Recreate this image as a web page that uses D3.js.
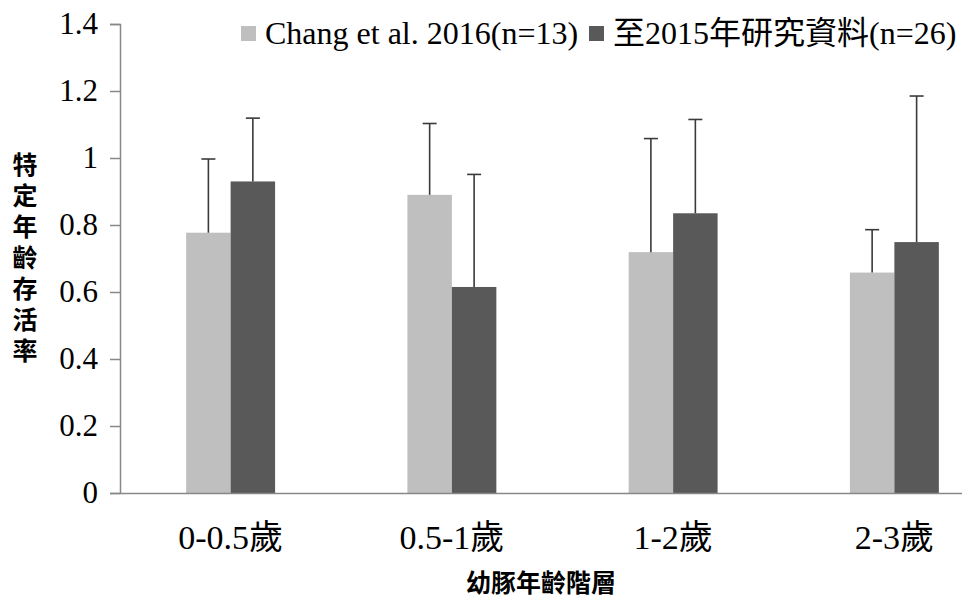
<!DOCTYPE html>
<html>
<head>
<meta charset="utf-8">
<script src="https://cdn.jsdelivr.net/npm/d3@7"></script>
<style>
  body { margin: 0; background: #fff; }
</style>
</head>
<body>
<svg id="chart" width="962" height="601"></svg>
<script>
const ageGroups = ['0-0.5歲', '0.5-1歲', '1-2歲', '2-3歲'];
const seriesNames = ['Chang et al. 2016(n=13)', '至2015年研究資料(n=26)'];
const changMean = [0.777, 0.890, 0.719, 0.658];
const changSd = [0.220, 0.213, 0.339, 0.128];
const studyMean = [0.930, 0.615, 0.835, 0.749];
const studySd = [0.189, 0.336, 0.280, 0.436];
const yTicks = [0, 0.2, 0.4, 0.6, 0.8, 1, 1.2, 1.4];

const colors = ['#bfbfbf', '#595959'];
const serif = '"Liberation Serif", "Times New Roman", "Noto Sans CJK TC", serif';
const cjk = '"Noto Sans CJK TC", "Noto Sans CJK SC", sans-serif';

const svg = d3.select('#chart');
const plotLeft = 120, plotRight = 1005, plotTop = 24, plotBottom = 493;

const x = d3.scaleBand().domain(ageGroups).range([plotLeft, plotRight])
    .paddingInner(0.598).paddingOuter(0.299);
const xs = d3.scaleBand().domain([0, 1]).range([0, x.bandwidth()]);
const y = d3.scaleLinear().domain([0, 1.4]).range([plotBottom, plotTop]);

// y axis
const yAxis = svg.append('g')
    .attr('transform', `translate(${plotLeft},0)`)
    .call(d3.axisLeft(y).tickValues(yTicks).tickSize(10).tickPadding(12)
        .tickFormat(d => String(+d.toFixed(1))))
    .attr('font-family', serif).attr('font-size', 31);
yAxis.select('.domain').attr('stroke', '#888').attr('stroke-width', 1.5);
yAxis.selectAll('.tick line').attr('stroke', '#888').attr('stroke-width', 1.5);
yAxis.selectAll('.tick text').attr('fill', '#000');

const data = [
  { mean: changMean, sd: changSd },
  { mean: studyMean, sd: studySd }
];

data.forEach((s, si) => {
  const g = svg.append('g');
  g.selectAll('rect')
    .data(ageGroups)
    .enter()
    .append('rect')
    .attr('x', (d) => x(d) + xs(si))
    .attr('width', xs.bandwidth())
    .attr('y', (d, i) => y(s.mean[i]))
    .attr('height', (d, i) => y(0) - y(s.mean[i]))
    .attr('fill', colors[si]);

  // upper error bars only
  g.selectAll('line.err')
    .data(ageGroups)
    .enter()
    .append('line')
    .attr('class', 'err')
    .attr('x1', (d) => x(d) + xs(si) + xs.bandwidth() / 2)
    .attr('x2', (d) => x(d) + xs(si) + xs.bandwidth() / 2)
    .attr('y1', (d, i) => y(s.mean[i]))
    .attr('y2', (d, i) => y(s.mean[i] + s.sd[i]))
    .attr('stroke', '#3a3a3a').attr('stroke-width', 1.6);
  g.selectAll('line.cap')
    .data(ageGroups)
    .enter()
    .append('line')
    .attr('class', 'cap')
    .attr('x1', (d) => x(d) + xs(si) + xs.bandwidth() / 2 - 7)
    .attr('x2', (d) => x(d) + xs(si) + xs.bandwidth() / 2 + 7)
    .attr('y1', (d, i) => y(s.mean[i] + s.sd[i]))
    .attr('y2', (d, i) => y(s.mean[i] + s.sd[i]))
    .attr('stroke', '#3a3a3a').attr('stroke-width', 1.6);
});

// x axis
const xAxis = svg.append('g')
    .attr('transform', `translate(0,${plotBottom})`)
    .call(d3.axisBottom(x).tickSize(0).tickPadding(32))
    .attr('font-family', serif).attr('font-size', 34);
xAxis.select('.domain').attr('stroke', '#888').attr('stroke-width', 1.5);
xAxis.selectAll('.tick text').attr('fill', '#000');

// axis titles (vertical CJK text)
svg.append('text')
    .attr('x', 25).attr('y', 152)
    .style('writing-mode', 'vertical-rl')
    .style('text-orientation', 'upright')
    .style('letter-spacing', '6px')
    .attr('font-family', cjk).attr('font-size', 25).attr('font-weight', 'bold')
    .text('特定年齡存活率');

svg.append('text')
    .attr('x', 541).attr('y', 592)
    .attr('text-anchor', 'middle')
    .attr('font-family', cjk).attr('font-size', 25).attr('font-weight', 'bold')
    .text('幼豚年齡階層');

// legend
const legendPos = [241, 589];
seriesNames.forEach((name, i) => {
  svg.append('rect')
    .attr('x', legendPos[i]).attr('y', 26)
    .attr('width', 15).attr('height', 15)
    .attr('fill', colors[i]);
  svg.append('text')
    .attr('x', legendPos[i] + 24).attr('y', 44)
    .attr('font-family', serif).attr('font-size', 32)
    .text(name);
});
</script>
</body>
</html>
